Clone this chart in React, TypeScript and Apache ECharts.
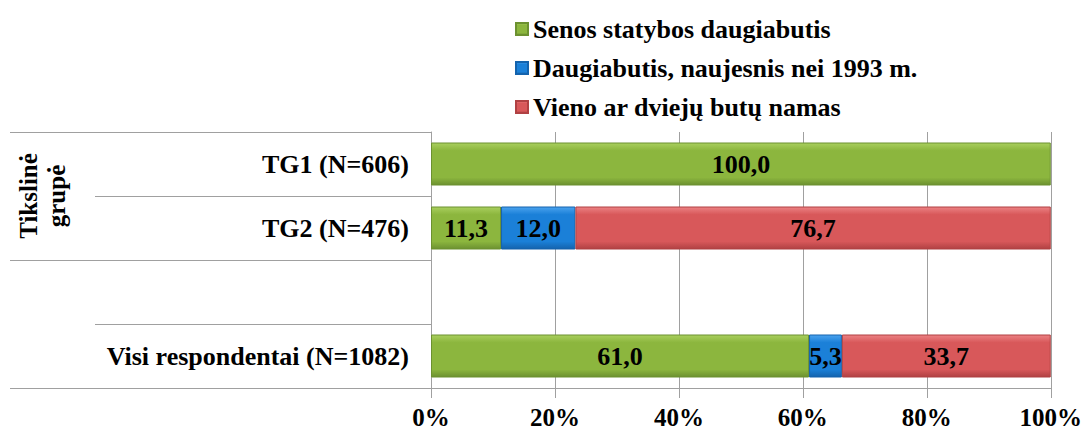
import React, { useEffect, useRef } from "react";
import * as echarts from "echarts";

const categories = ["TG1 (N=606)", "TG2 (N=476)", "", "Visi respondentai (N=1082)"];
const seriesNames = [
  "Senos statybos daugiabutis",
  "Daugiabutis, naujesnis nei 1993 m.",
  "Vieno ar dviejų butų namas",
];
const seniDaugiabuciai = [100.0, 11.3, null, 61.0];
const naujiDaugiabuciai = [null, 12.0, null, 5.3];
const namai = [null, 76.7, null, 33.7];
const xTicks = [0, 20, 40, 60, 80, 100];
const groupLabel = "Tikslinė\ngrupė";

const colors = ["#8cb63e", "#1b80d8", "#d8585a"];
const lights = ["#a9cf5e", "#4aa2ee", "#ec8284"];
const darks = ["#6c9130", "#1463ad", "#b04143"];
const FONT = "'Liberation Serif', 'Times New Roman', serif";

const grad = (i: number) =>
  new echarts.graphic.LinearGradient(0, 0, 0, 1, [
    { offset: 0, color: lights[i] },
    { offset: 0.18, color: colors[i] },
    { offset: 0.82, color: colors[i] },
    { offset: 1, color: darks[i] },
  ]);

export default function App() {
  const ref = useRef<HTMLDivElement>(null);
  useEffect(() => {
    const chart = echarts.init(ref.current!, null, { renderer: "svg" });
    const data = [seniDaugiabuciai, naujiDaugiabuciai, namai];
    const lineStyle = { stroke: "#a0a0a0", lineWidth: 1 };
    chart.setOption({
      animation: false,
      backgroundColor: "#ffffff",
      legend: {
        orient: "vertical",
        left: 510,
        top: 11,
        itemWidth: 12,
        itemHeight: 12,
        itemGap: 13,
        icon: "rect",
        textStyle: { fontFamily: FONT, fontSize: 26, fontWeight: "bold", color: "#000" },
        data: seriesNames,
      },
      grid: { left: 431, right: 33, top: 132, bottom: 42, containLabel: false },
      xAxis: {
        type: "value",
        min: xTicks[0],
        max: xTicks[xTicks.length - 1],
        interval: 20,
        axisLine: { show: true, lineStyle: { color: "#a0a0a0" } },
        axisTick: { show: true, length: 10, lineStyle: { color: "#a0a0a0" } },
        splitLine: { show: true, lineStyle: { color: "#a0a0a0" } },
        axisLabel: {
          formatter: "{value}%",
          fontFamily: FONT,
          fontSize: 25,
          fontWeight: "bold",
          color: "#000",
          margin: 17,
        },
      },
      yAxis: {
        type: "category",
        inverse: true,
        data: categories,
        axisLine: { show: true, lineStyle: { color: "#a0a0a0" } },
        axisTick: { show: false },
        axisLabel: {
          fontFamily: FONT,
          fontSize: 26,
          fontWeight: "bold",
          color: "#000",
          margin: 22,
        },
      },
      series: seriesNames.map((name, i) => ({
        name,
        type: "bar",
        stack: "total",
        barWidth: 43,
        data: data[i],
        itemStyle: { color: grad(i), borderColor: darks[i], borderWidth: 1 },
        label: {
          show: true,
          position: "inside",
          fontFamily: FONT,
          fontSize: 26,
          fontWeight: "bold",
          color: "#000",
          formatter: (p: any) => (p.value == null ? "" : Number(p.value).toFixed(1).replace(".", ",")),
        },
      })),
      graphic: [
        { type: "line", shape: { x1: 10, y1: 132.5, x2: 431, y2: 132.5 }, style: lineStyle },
        { type: "line", shape: { x1: 95, y1: 196.5, x2: 431, y2: 196.5 }, style: lineStyle },
        { type: "line", shape: { x1: 10, y1: 260.5, x2: 431, y2: 260.5 }, style: lineStyle },
        { type: "line", shape: { x1: 95, y1: 324.5, x2: 431, y2: 324.5 }, style: lineStyle },
        { type: "line", shape: { x1: 10, y1: 388.5, x2: 431, y2: 388.5 }, style: lineStyle },
        {
          type: "text",
          x: 42,
          y: 196,
          rotation: Math.PI / 2,
          style: {
            text: groupLabel,
            font: `bold 25px ${FONT}`,
            fill: "#000",
            align: "center",
            verticalAlign: "middle",
            lineHeight: 28,
          },
        },
      ],
    });
    return () => chart.dispose();
  }, []);
  return (
    <div
      ref={ref}
      style={{ position: "fixed", left: 0, top: 0, width: 1085, height: 430 }}
    />
  );
}
